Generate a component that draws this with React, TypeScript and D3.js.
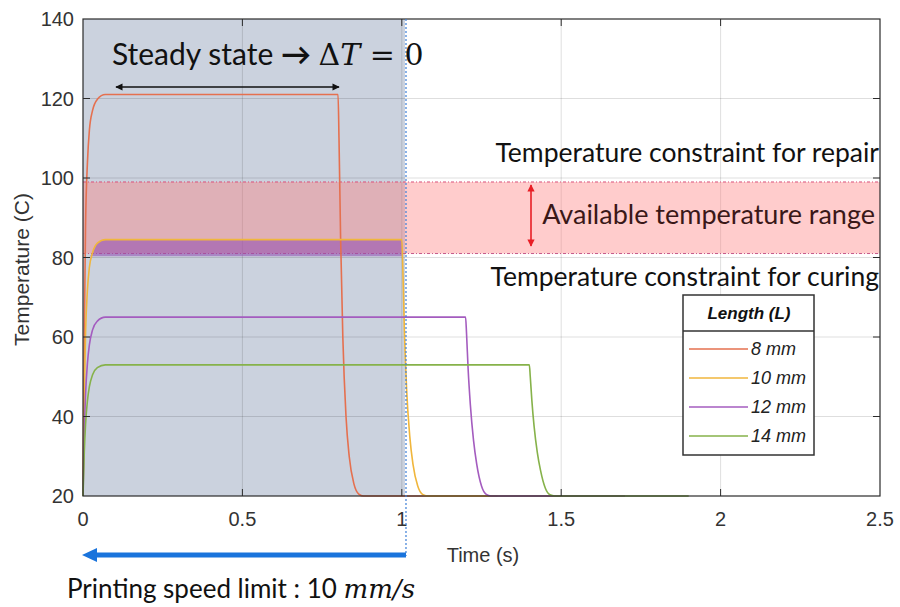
import React from "react";
import * as d3 from "d3";

// series: [time (s), temperature (C)]
const lengths = ["8 mm", "10 mm", "12 mm", "14 mm"];
const colors = ["#e5704f", "#f0b63c", "#a45cbf", "#86b24a"];

const temp8mm: [number, number][] = [
  [0, 20], [0.004, 60], [0.008, 88], [0.014, 104], [0.02, 112], [0.03, 117], [0.045, 119.8], [0.07, 121],
  [0.8, 121], [0.803, 110], [0.808, 85], [0.815, 60], [0.825, 40], [0.835, 30], [0.85, 23], [0.865, 20.5], [0.88, 20], [1.3, 20],
];
const temp10mm: [number, number][] = [
  [0, 20], [0.004, 45], [0.008, 61], [0.014, 72], [0.02, 77.5], [0.03, 81.2], [0.045, 83.6], [0.07, 84.5],
  [1.0, 84.5], [1.003, 78], [1.008, 62], [1.015, 47], [1.025, 35], [1.035, 28], [1.05, 22.5], [1.065, 20.4], [1.08, 20], [1.5, 20],
];
const temp12mm: [number, number][] = [
  [0, 20], [0.004, 36], [0.008, 45.5], [0.014, 53.5], [0.02, 58], [0.03, 61.8], [0.045, 64], [0.07, 65],
  [1.2, 65], [1.203, 61], [1.208, 52], [1.215, 43], [1.225, 34], [1.235, 28], [1.25, 22.5], [1.265, 20.4], [1.28, 20], [1.7, 20],
];
const temp14mm: [number, number][] = [
  [0, 20], [0.004, 31], [0.008, 38], [0.014, 44], [0.02, 47.5], [0.03, 50.5], [0.045, 52.3], [0.07, 53],
  [1.4, 53], [1.403, 50], [1.408, 44], [1.415, 37.5], [1.425, 31], [1.435, 26.5], [1.45, 22], [1.465, 20.3], [1.48, 20], [1.9, 20],
];
const series = [temp8mm, temp10mm, temp12mm, temp14mm];

const xTicks = [0, 0.5, 1, 1.5, 2, 2.5];
const yTicks = [20, 40, 60, 80, 100, 120, 140];

const repairLimit = 99;
const curingLimit = 81;
const speedLimitTime = 1.01;

const W = 900;
const H = 607;

const x = d3.scaleLinear().domain([0, 2.5]).range([83, 880]);
const y = d3.scaleLinear().domain([20, 140]).range([496, 19]);

const line = d3
  .line<[number, number]>()
  .x(d => x(d[0]))
  .y(d => y(d[1]))
  .curve(d3.curveMonotoneX);

const highlight = d3
  .area<[number, number]>()
  .x(d => x(d[0]))
  .y0(y(80.3))
  .y1(d => y(Math.max(80.3, d[1])))
  .curve(d3.curveMonotoneX);

const sansTick = "'Liberation Sans', Arial, sans-serif";
const calibri = "Lato, 'Open Sans', sans-serif";
const mathFont = "'DejaVu Serif', 'Liberation Serif', serif";

export default function App() {
  const [x0, x1] = x.range();
  const [yb, yt] = y.range();
  const xs = x(speedLimitTime);

  return (
    <div style={{ position: "absolute", left: 0, top: 0 }}>
      <svg width={W} height={H} style={{ display: "block", background: "white" }}>
        <defs>
          <marker id="blk" viewBox="0 0 10 10" refX="9" refY="5" markerWidth="5" markerHeight="4.5" orient="auto-start-reverse">
            <path d="M0,0 L10,5 L0,10 z" fill="#111" />
          </marker>
          <marker id="red" viewBox="0 0 10 10" refX="9" refY="5" markerWidth="5" markerHeight="4.5" orient="auto-start-reverse">
            <path d="M0,0 L10,5 L0,10 z" fill="#e81e25" />
          </marker>
        </defs>

        {/* steady-state shading */}
        <rect x={x0} y={yt} width={xs - x0} height={yb - yt} fill="#cbd2de" />

        {/* grid */}
        {xTicks.slice(1, -1).map(t => (
          <line key={"gx" + t} x1={x(t)} x2={x(t)} y1={yt} y2={yb} stroke="#000" strokeOpacity={0.13} />
        ))}
        {yTicks.slice(1, -1).map(t => (
          <line key={"gy" + t} x1={x0} x2={x1} y1={y(t)} y2={y(t)} stroke="#000" strokeOpacity={0.13} />
        ))}

        {/* available temperature band */}
        <rect x={x0} y={y(repairLimit)} width={x1 - x0} height={y(curingLimit) - y(repairLimit)} fill="#ff7878" fillOpacity={0.38} />
        <line x1={x0} x2={x1} y1={y(repairLimit)} y2={y(repairLimit)} stroke="#d9507a" strokeWidth={1} strokeDasharray="3 2 1 2" />
        <line x1={x0} x2={x1} y1={y(curingLimit)} y2={y(curingLimit)} stroke="#c85a8a" strokeWidth={1} strokeDasharray="3 2 1 2" />

        {/* 10 mm within range */}
        <path d={highlight(temp10mm.filter(d => d[0] >= 0.01 && d[0] <= 1.0)) ?? ""} fill="#8e48b0" fillOpacity={0.55} />

        {/* curves */}
        {series.map((s, i) => (
          <path key={lengths[i]} d={line(s) ?? ""} fill="none" stroke={colors[i]} strokeWidth={1.6} />
        ))}

        {/* axes box */}
        <rect x={x0} y={yt} width={x1 - x0} height={yb - yt} fill="none" stroke="#2b2b2b" strokeWidth={1.2} />
        {xTicks.slice(1, -1).map(t => (
          <g key={"tx" + t}>
            <line x1={x(t)} x2={x(t)} y1={yb} y2={yb - 7} stroke="#2b2b2b" />
            <line x1={x(t)} x2={x(t)} y1={yt} y2={yt + 7} stroke="#2b2b2b" />
          </g>
        ))}
        {yTicks.slice(1, -1).map(t => (
          <g key={"ty" + t}>
            <line x1={x0} x2={x0 + 7} y1={y(t)} y2={y(t)} stroke="#2b2b2b" />
            <line x1={x1} x2={x1 - 7} y1={y(t)} y2={y(t)} stroke="#2b2b2b" />
          </g>
        ))}
        {xTicks.map(t => (
          <text key={"lx" + t} x={x(t)} y={yb + 30} textAnchor="middle" fontFamily={sansTick} fontSize={20} fill="#333">
            {t}
          </text>
        ))}
        {yTicks.map(t => (
          <text key={"ly" + t} x={x0 - 9} y={y(t) + 7} textAnchor="end" fontFamily={sansTick} fontSize={20} fill="#333">
            {t}
          </text>
        ))}
        <text x={483} y={562} textAnchor="middle" fontFamily={sansTick} fontSize={20} fill="#333">
          Time (s)
        </text>
        <text transform={`translate(29,${(yt + yb) / 2 + 12}) rotate(-90)`} textAnchor="middle" fontFamily={sansTick} fontSize={21} fill="#333">
          Temperature (C)
        </text>

        {/* speed limit marker */}
        <line x1={xs + 1} x2={xs + 1} y1={yt} y2={556} stroke="#3d7fd6" strokeWidth={1.2} strokeDasharray="2 2" />
        <line x1={xs + 1} x2={x0 + 12} y1={555} y2={555} stroke="#1a74dc" strokeWidth={5} />
        <path d={`M${x0 - 1},555 L${x0 + 14},548 L${x0 + 14},562 Z`} fill="#1a74dc" />
        <text x={67} y={598} fontFamily={calibri} fontSize={26} fill="#111">
          Printing speed limit : 10{" "}
          <tspan fontFamily={mathFont} fontStyle="italic">mm/s</tspan>
        </text>

        {/* steady state annotation */}
        <text x={112} y={65} fontFamily={calibri} fontSize={30} fill="#111">
          Steady state <tspan fontWeight="bold">→</tspan> <tspan fontFamily={mathFont}>Δ</tspan>
          <tspan fontFamily={mathFont} fontStyle="italic">T</tspan>
          <tspan fontFamily={mathFont}> = 0</tspan>
        </text>
        <line x1={116} x2={339} y1={87} y2={87} stroke="#111" strokeWidth={1.6} markerStart="url(#blk)" markerEnd="url(#blk)" />

        {/* temperature range annotation */}
        <text x={879} y={162} textAnchor="end" fontFamily={calibri} fontSize={26.5} fill="#111">
          Temperature constraint for repair
        </text>
        <text x={875} y={224} textAnchor="end" fontFamily={calibri} fontSize={27} fill="#3a1818">
          Available temperature range
        </text>
        <text x={879} y={286} textAnchor="end" fontFamily={calibri} fontSize={26.5} fill="#111">
          Temperature constraint for curing
        </text>
        <line x1={531} x2={531} y1={185} y2={246} stroke="#e81e25" strokeWidth={1.6} markerStart="url(#red)" markerEnd="url(#red)" />

        {/* legend */}
        <rect x={683} y={295} width={131} height={160} fill="white" stroke="#333" strokeWidth={1.5} />
        <line x1={683} x2={814} y1={331} y2={331} stroke="#333" strokeWidth={1.5} />
        <text x={749} y={319} textAnchor="middle" fontFamily={sansTick} fontSize={17} fontStyle="italic" fontWeight="bold" fill="#111">
          Length (L)
        </text>
        {lengths.map((l, i) => {
          const ly = 349 + i * 29;
          return (
            <g key={"lg" + l}>
              <line x1={689} x2={748} y1={ly} y2={ly} stroke={colors[i]} strokeWidth={1.6} />
              <text x={751} y={ly + 6} fontFamily={sansTick} fontSize={18} fontStyle="italic" fill="#222">
                {l}
              </text>
            </g>
          );
        })}
      </svg>
    </div>
  );
}
